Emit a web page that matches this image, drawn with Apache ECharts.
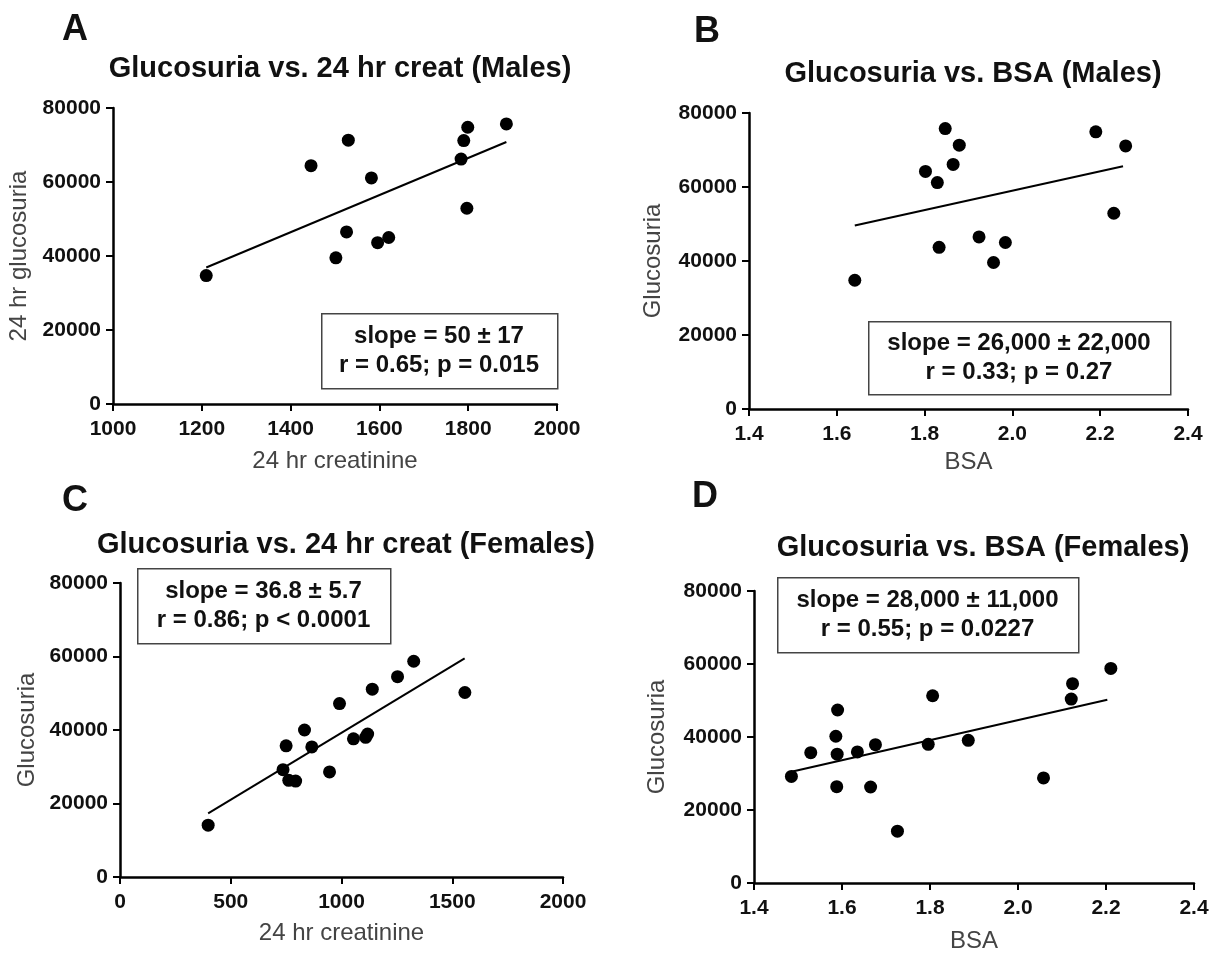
<!DOCTYPE html>
<html>
<head>
<meta charset="utf-8">
<script src="https://cdn.jsdelivr.net/npm/echarts@6/dist/echarts.min.js"></script>
<style>
  html, body { margin: 0; padding: 0; background: #fff; }
  #chart { width: 1221px; height: 954px; }
</style>
</head>
<body>
<div id="chart"></div>
<script>
// panel A / B : males
const creatMales = [1210, 1446, 1530, 1502, 1526, 1582, 1596, 1621, 1784, 1790, 1799, 1797, 1886]
const glucMalesA = [34700, 64400, 71300, 39500, 46500, 61100, 43600, 45000, 66200, 71200, 74800, 52900, 75700]
const bsaMales = [1.641, 1.802, 1.829, 1.847, 1.879, 1.865, 1.833, 1.924, 1.957, 1.984, 2.19, 2.231, 2.258]
const glucMalesB = [34800, 64200, 61200, 75800, 71300, 66100, 43700, 46500, 39600, 45000, 74900, 52900, 71100]

// panel C / D : females
const creatFemales = [398, 736, 750, 762, 793, 833, 866, 946, 991, 1054, 1109, 1118, 1139, 1253, 1326, 1557]
const glucFemalesC = [14100, 29200, 35700, 26300, 26100, 40000, 35400, 28600, 47200, 37600, 38000, 38900, 51100, 54500, 58700, 50200]
const bsaFemales = [1.485, 1.529, 1.586, 1.59, 1.589, 1.588, 1.635, 1.665, 1.676, 1.726, 1.796, 1.806, 1.887, 2.058, 2.121, 2.124, 2.211]
const glucFemalesD = [29200, 35700, 40200, 47400, 35300, 26400, 35900, 26300, 37900, 14200, 38000, 51300, 39100, 28800, 50400, 54600, 58800]

// regression lines (end points)
const fitAx = [1210, 1886], fitAy = [36900, 70800]
const fitBx = [1.641, 2.252], fitBy = [49600, 65600]
const fitCx = [398, 1556], fitCy = [17300, 59500]
const fitDx = [1.485, 2.203], fitDy = [30500, 50200]

const titles = [
  'Glucosuria vs. 24 hr creat (Males)',
  'Glucosuria vs. BSA (Males)',
  'Glucosuria vs. 24 hr creat (Females)',
  'Glucosuria vs. BSA (Females)'
]
const letters = ['A', 'B', 'C', 'D']
const xNames = ['24 hr creatinine', 'BSA', '24 hr creatinine', 'BSA']
const yNames = ['24 hr glucosuria', 'Glucosuria', 'Glucosuria', 'Glucosuria']
const statsText = [
  'slope = 50 ± 17\nr = 0.65; p = 0.015',
  'slope = 26,000 ± 22,000\nr = 0.33; p = 0.27',
  'slope = 36.8 ± 5.7\nr = 0.86; p < 0.0001',
  'slope = 28,000 ± 11,000\nr = 0.55; p = 0.0227'
]

const FONT = 'Arial, "Liberation Sans", Helvetica, sans-serif'

function zip(xs, ys) {
  return xs.map((x, i) => [x, ys[i]])
}

// layout
const grids = [
  { left: 113, top: 108, width: 444, height: 296 },
  { left: 749, top: 113, width: 439, height: 296 },
  { left: 120, top: 583, width: 443, height: 294 },
  { left: 754, top: 591, width: 440, height: 295 }
]
const xRanges = [
  { min: 1000, max: 2000, interval: 200 },
  { min: 1.4, max: 2.4, interval: 0.2 },
  { min: 0, max: 2000, interval: 500 },
  { min: 1.4, max: 2.4, interval: 0.2 }
]
const xNameGaps = [45, 41, 44, 46]
const yNameGaps = [82, 84, 81, 85]
const titlePos = [[335, 49], [968, 54], [341, 525], [978, 528]]
const letterPos = [[70, 7], [702, 9], [70, 478], [700, 474]]
const boxes = [
  { x: 321, y: 313, w: 236, h: 75 },
  { x: 868, y: 321, w: 302, h: 73 },
  { x: 137, y: 568, w: 253, h: 75 },
  { x: 777, y: 577, w: 301, h: 75 }
]

const scatterSets = [
  zip(creatMales, glucMalesA),
  zip(bsaMales, glucMalesB),
  zip(creatFemales, glucFemalesC),
  zip(bsaFemales, glucFemalesD)
]
const fitSets = [zip(fitAx, fitAy), zip(fitBx, fitBy), zip(fitCx, fitCy), zip(fitDx, fitDy)]

const axisLine = { lineStyle: { color: '#000', width: 2.5 } }
const axisTick = { length: 7, lineStyle: { color: '#000', width: 2 } }
const tickLabel = { color: '#111', fontFamily: FONT, fontWeight: 'bold', fontSize: 21 }
const nameStyle = { color: '#444', fontFamily: FONT, fontSize: 24 }

const title = []
const graphic = []
const xAxis = []
const yAxis = []
const series = []

for (let i = 0; i < 4; i++) {
  title.push({
    text: titles[i],
    left: titlePos[i][0],
    top: titlePos[i][1],
    textAlign: 'center',
    textStyle: { color: '#111', fontFamily: FONT, fontWeight: 'bold', fontSize: 29 }
  })
  title.push({
    text: letters[i],
    left: letterPos[i][0],
    top: letterPos[i][1],
    textAlign: 'center',
    textStyle: { color: '#111', fontFamily: FONT, fontWeight: 'bold', fontSize: 36 }
  })

  const b = boxes[i]
  graphic.push({
    type: 'rect',
    left: b.x,
    top: b.y,
    z: 10,
    shape: { width: b.w, height: b.h },
    style: { fill: '#fff', stroke: '#444', lineWidth: 1.5 }
  })
  graphic.push({
    type: 'text',
    x: b.x + b.w / 2,
    y: b.y + b.h / 2,
    z: 11,
    style: {
      text: statsText[i],
      align: 'center',
      verticalAlign: 'middle',
      fill: '#111',
      font: 'bold 24px ' + FONT,
      lineHeight: 29
    }
  })

  const r = xRanges[i]
  xAxis.push({
    type: 'value',
    gridIndex: i,
    min: r.min,
    max: r.max,
    interval: r.interval,
    name: xNames[i],
    nameLocation: 'middle',
    nameGap: xNameGaps[i],
    nameTextStyle: nameStyle,
    axisLine: axisLine,
    axisTick: axisTick,
    splitLine: { show: false },
    axisLabel: Object.assign({
      margin: 15,
      formatter: r.interval < 1 ? v => v.toFixed(1) : v => String(v)
    }, tickLabel)
  })
  yAxis.push({
    type: 'value',
    gridIndex: i,
    min: 0,
    max: 80000,
    interval: 20000,
    name: yNames[i],
    nameLocation: 'middle',
    nameGap: yNameGaps[i],
    nameTextStyle: nameStyle,
    axisLine: axisLine,
    axisTick: axisTick,
    splitLine: { show: false },
    axisLabel: Object.assign({ margin: 12, formatter: v => String(v) }, tickLabel)
  })

  series.push({
    type: 'line',
    xAxisIndex: i,
    yAxisIndex: i,
    data: fitSets[i],
    showSymbol: false,
    symbol: 'none',
    lineStyle: { color: '#000', width: 2 },
    z: 2
  })
  series.push({
    type: 'scatter',
    xAxisIndex: i,
    yAxisIndex: i,
    data: scatterSets[i],
    symbol: 'circle',
    symbolSize: 13,
    itemStyle: { color: '#000', opacity: 1 },
    z: 3
  })
}

const chart = echarts.init(document.getElementById('chart'))
chart.setOption({
  backgroundColor: '#fff',
  animation: false,
  title: title,
  grid: grids,
  xAxis: xAxis,
  yAxis: yAxis,
  series: series,
  graphic: graphic
})
</script>
</body>
</html>
